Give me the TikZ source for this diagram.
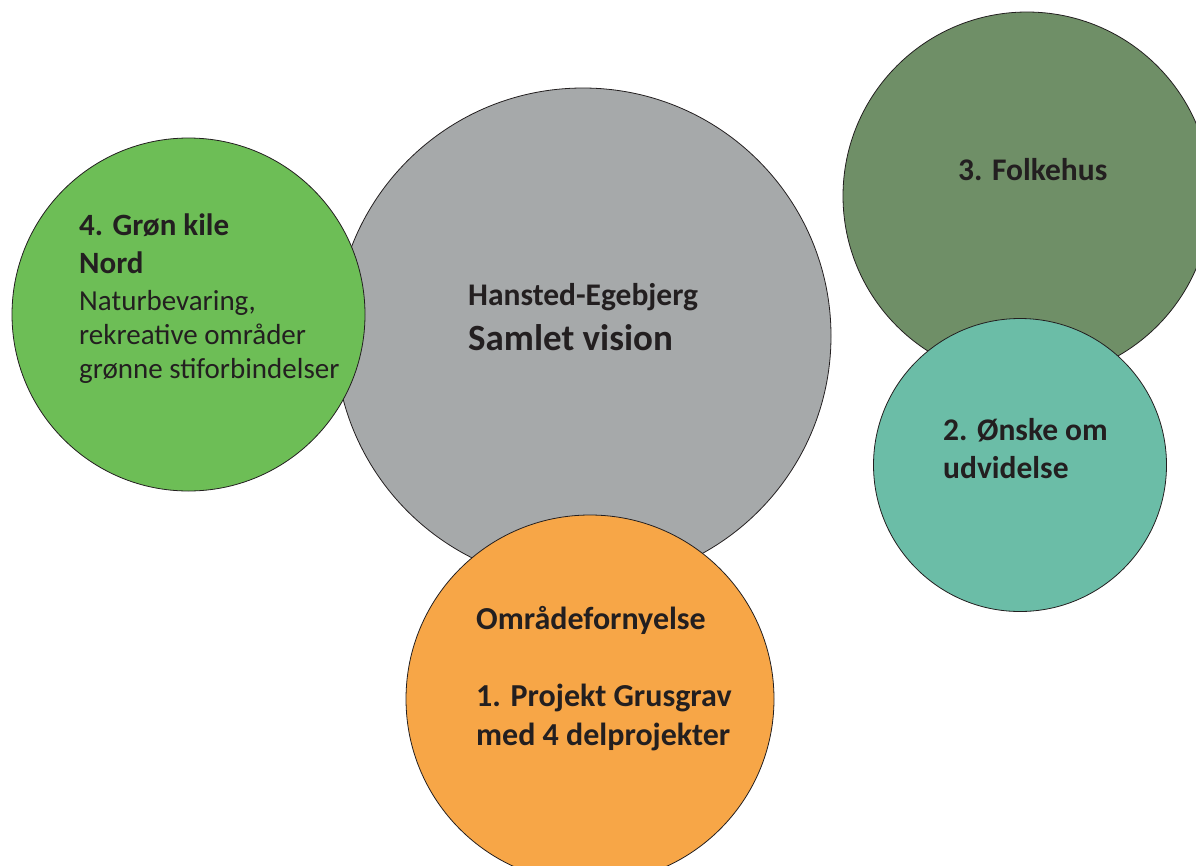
\documentclass[tikz,border=0pt]{standalone}
\usepackage{fontspec}
\setmainfont{Carlito}
\usepackage{tikz}
\definecolor{hegray}{RGB}{166,169,170}
\definecolor{hegreen}{RGB}{109,190,86}
\definecolor{heorange}{RGB}{247,166,71}
\definecolor{heolive}{RGB}{111,143,103}
\definecolor{heteal}{RGB}{107,189,167}
\definecolor{hetext}{RGB}{35,31,32}

\begin{document}
\begin{tikzpicture}[x=1pt, y=-1pt,
    bubble/.style={circle, draw=hetext, line width=0.8pt, inner sep=0pt},
    label/.style={anchor=base west, inner sep=0pt, align=left, text=hetext},
    boldlabel/.style={label, font=\bfseries\fontsize{31.5}{38}\selectfont}]
  \clip (0,0) rectangle (1196,865);

  % Bubbles
  \node[bubble, fill=hegray, minimum size=496pt] (vision) at (583,336) {};
  \node[bubble, fill=hegreen, minimum size=353pt] (kile) at (188.5,314.5) {};
  \node[bubble, fill=heorange, minimum size=368pt] (grusgrav) at (590,699) {};
  \node[bubble, fill=heolive, minimum size=368pt] (folkehus) at (1027,196) {};
  \node[bubble, fill=heteal, minimum size=293pt] (udvidelse) at (1020,465) {};

  % Texts (base = last line)
  \node[boldlabel] (visiontop) at (468,305) {Hansted-Egebjerg};
  \node[label, font=\bfseries\fontsize{37}{44}\selectfont] (visionname) at (468,350) {Samlet vision};
  \node[boldlabel, font=\bfseries\fontsize{31}{38}\selectfont] (kiletitle) at (79,273) {4. Grøn kile\\Nord};
  \node[label, font=\fontsize{29}{34}\selectfont] (kiletext) at (79,378) {Naturbevaring,\\rekreative områder\\grønne stiforbindelser};
  \node[boldlabel, font=\bfseries\fontsize{32}{38.5}\selectfont] (grusgravtext) at (476,745) {Områdefornyelse\\[38.5pt]1. Projekt Grusgrav\\med 4 delprojekter};
  \node[boldlabel] (folkehustext) at (958,180) {3. Folkehus};
  \node[boldlabel] (udvidelsetext) at (943,478) {2. Ønske om\\udvidelse};
\end{tikzpicture}
\end{document}
